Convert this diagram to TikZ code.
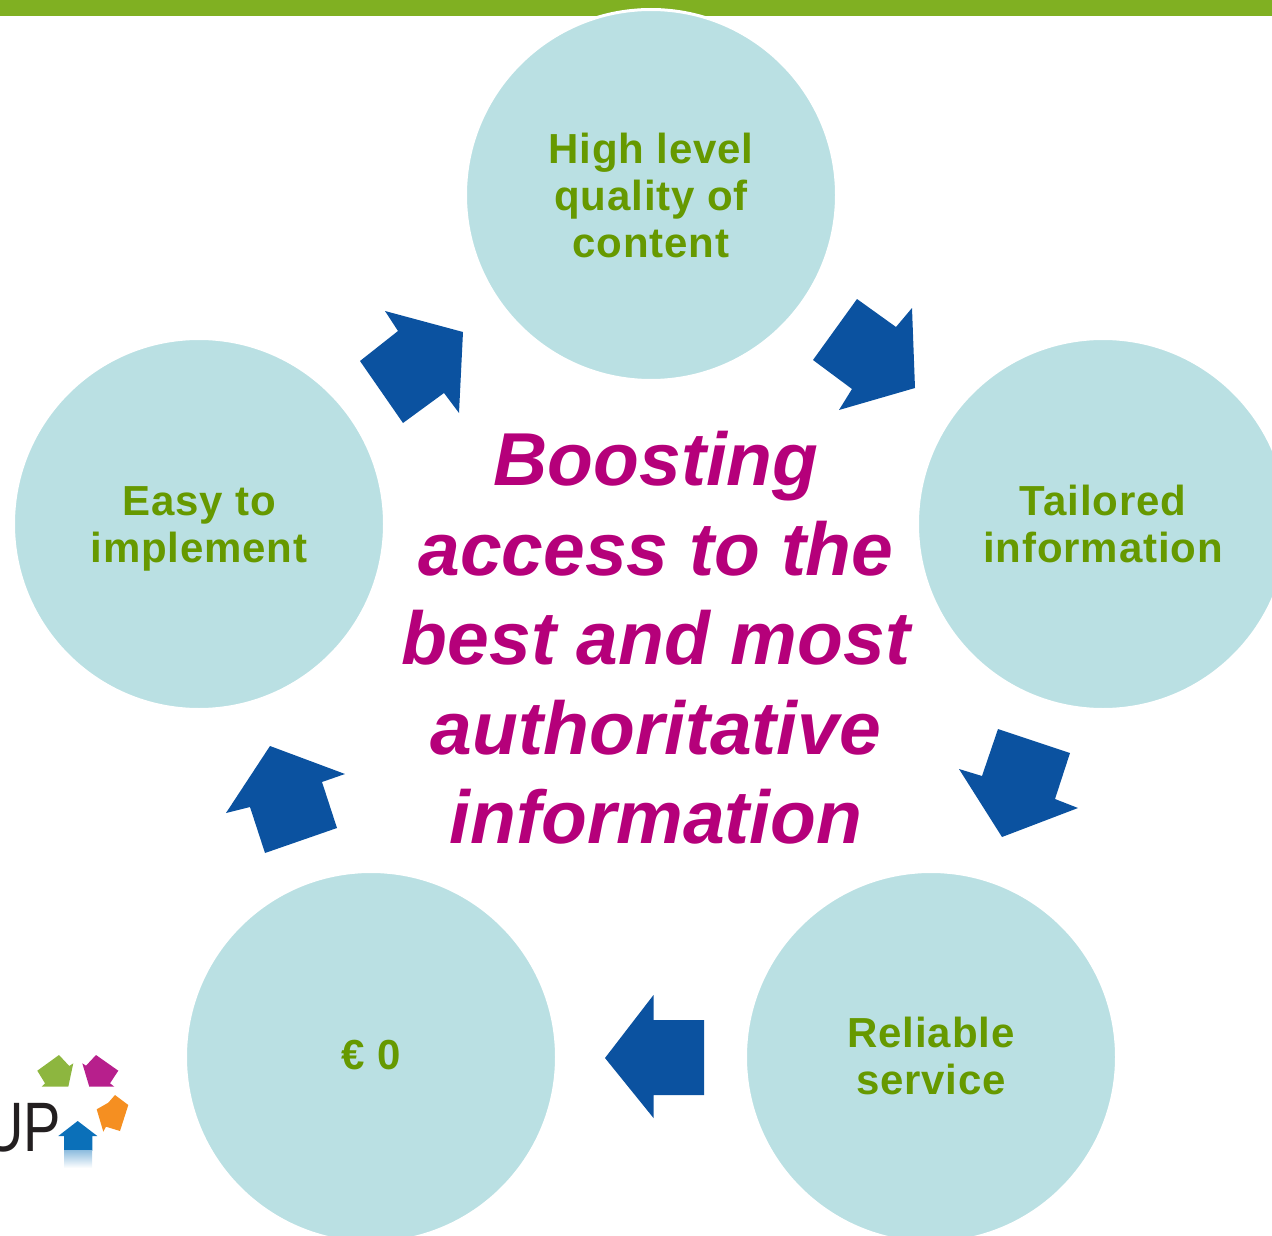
\documentclass[tikz,border=0pt]{standalone}
\usepackage{fontspec}
\setmainfont{Liberation Sans}
\newfontfamily\bubblefont[LetterSpace=2,BoldFont={Liberation Sans Bold}]{Liberation Sans}
\definecolor{barG}{HTML}{80B022}
\definecolor{circ}{HTML}{BAE0E3}
\definecolor{txtG}{HTML}{669900}
\definecolor{mag}{HTML}{B5007A}
\definecolor{arr}{HTML}{0B52A0}
\definecolor{lgG}{HTML}{8DB63F}
\definecolor{lgM}{HTML}{B71F8C}
\definecolor{lgO}{HTML}{F58F21}
\definecolor{lgB}{HTML}{0B70B9}
\definecolor{lgK}{HTML}{231F20}
\tikzset{
  bubble/.style={circle,fill=circ,draw=white,line width=3pt,minimum size=371pt,inner sep=0pt,align=center,text=txtG,
    font=\bubblefont\fontsize{42}{47}\selectfont\bfseries},
  blockarrow/.style={fill=arr,draw=none},
  title/.style={align=center,text=mag,font=\fontsize{75}{89.5}\selectfont\bfseries\itshape,inner sep=0pt},
}
\begin{document}
\begin{tikzpicture}[x=1pt,y=-1pt]
\useasboundingbox (0,0) rectangle (1272,1236);
\clip (0,0) rectangle (1272,1236);
\fill[barG] (0,0) rectangle (1272,16);
% logo
\node[anchor=base east,inner sep=0pt,text=lgK,font=\fontsize{70}{70}\selectfont,xscale=.8] (logotext) at (61,1151) {UP};
\fill[lgG] (37.3,1070.7) -- (59,1055) -- (69.3,1066) -- (73.3,1063.3) -- (68.3,1086.7) -- (41.7,1086.7) -- (45,1083.3) -- cycle;
\fill[lgM] (96,1055) -- (118.3,1070.7) -- (110,1083.3) -- (114.3,1086.7) -- (89.3,1086.7) -- (82.3,1063.3) -- (86,1065.7) -- cycle;
\fill[lgO] (115,1095) -- (128.3,1105) -- (120,1131) -- (106,1126.7) -- (103.3,1131.7) -- (96.7,1109.3) -- (108.3,1102.7) -- cycle;
\fill[lgB] (77.7,1121) -- (97.3,1136) -- (92.3,1136) -- (92.3,1150.7) -- (64,1150.7) -- (64,1136) -- (58.3,1136) -- cycle;
\shade[top color=lgB!45!white,bottom color=white] (64,1150.7) rectangle (92,1168);
% circles
\node[bubble] (quality) at (651,195) {High level\\quality of\\content};
\node[bubble] (tailored) at (1103,524) {Tailored\\information};
\node[bubble] (reliable) at (931,1057) {Reliable\\service\rule[-2.5pt]{0pt}{0pt}};
\node[bubble] (zero) at (371,1057) {€ 0\rule[-4.5pt]{0pt}{0pt}};
\node[bubble] (easy) at (199,524) {\vphantom{l}Easy to\\\smash{implement}};
% arrows
\fill[blockarrow] (857,299) -- (896,327) -- (912,308) -- (915,388) -- (839,410) -- (852,389) -- (813,360) -- cycle;
\fill[blockarrow] (998,729) -- (1070,753) -- (1055,799) -- (1078,808) -- (1002,837) -- (959,769) -- (982,776) -- cycle;
\fill[blockarrow] (704,1020) -- (704,1095) -- (653.5,1095) -- (653.5,1118) -- (605,1058) -- (653.5,995) -- (653.5,1020) -- cycle;
\fill[blockarrow] (265,853) -- (337,828) -- (322,782) -- (345,774) -- (270,746) -- (226,813) -- (250,807) -- cycle;
\fill[blockarrow] (403,423) -- (444,393) -- (459,413) -- (463,332) -- (385,311) -- (398,331) -- (360,361) -- cycle;
% title
\node[title] (boost) at (656,638) {Boosting\\access to the\\best and most\\authoritative\\information};
\end{tikzpicture}
\end{document}
